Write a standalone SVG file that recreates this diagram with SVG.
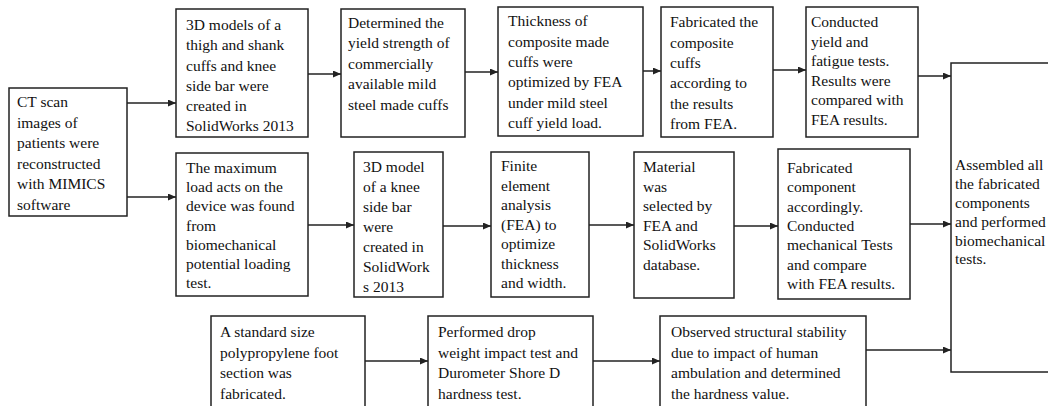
<svg xmlns="http://www.w3.org/2000/svg" width="1048" height="406" viewBox="0 0 1048 406">
<style>
.box{fill:#fff;stroke:#222;stroke-width:1.5}
.t{font-family:"Liberation Serif","Times New Roman",serif;font-size:15.5px;fill:#111}
.c{fill:none;stroke:#222;stroke-width:1.5;marker-end:url(#ah)}
</style>
<defs>
<marker id="ah" markerUnits="userSpaceOnUse" markerWidth="9" markerHeight="8" refX="8" refY="3.5" orient="auto">
<path d="M0,0 L8,3.5 L0,7 z" fill="#222"/>
</marker>
</defs>
<rect width="1048" height="406" fill="#fff"/>
<g id="connectors">
<path class="c" d="M127,103 H176"/>
<path class="c" d="M127,197 H176"/>
<path class="c" d="M308,74 H341"/>
<path class="c" d="M465,72 H498"/>
<path class="c" d="M643,71 H661"/>
<path class="c" d="M773,70 H806"/>
<path class="c" d="M918,76 H951"/>
<path class="c" d="M308,225 H354"/>
<path class="c" d="M443,226 H491"/>
<path class="c" d="M589,225 H634"/>
<path class="c" d="M734,226 H778"/>
<path class="c" d="M910,224 H951"/>
<path class="c" d="M365,361 H428"/>
<path class="c" d="M593,361 H660"/>
<path class="c" d="M866,350 H951"/>
</g>
<g id="ct">
<rect class="box" x="9" y="88" width="118" height="128"/>
<text class="t"><tspan x="17" y="107">CT scan</tspan><tspan x="17" y="127.5">images of</tspan><tspan x="17" y="148">patients were</tspan><tspan x="17" y="168.5">reconstructed</tspan><tspan x="17" y="189">with MIMICS</tspan><tspan x="17" y="209.5">software</tspan></text>
</g>
<g id="models3d">
<rect class="box" x="176" y="9" width="132" height="128"/>
<text class="t"><tspan x="186" y="30">3D models of a</tspan><tspan x="186" y="50">thigh and shank</tspan><tspan x="186" y="70.5">cuffs and knee</tspan><tspan x="186" y="91">side bar were</tspan><tspan x="186" y="111">created in</tspan><tspan x="186" y="131">SolidWorks 2013</tspan></text>
</g>
<g id="yield">
<rect class="box" x="341" y="9" width="124" height="128"/>
<text class="t"><tspan x="348" y="28">Determined the</tspan><tspan x="348" y="48">yield strength of</tspan><tspan x="348" y="69">commercially</tspan><tspan x="348" y="89">available mild</tspan><tspan x="348" y="110">steel made cuffs</tspan></text>
</g>
<g id="thickness">
<rect class="box" x="498" y="7" width="145" height="129"/>
<text class="t"><tspan x="508" y="26">Thickness of</tspan><tspan x="508" y="47">composite made</tspan><tspan x="508" y="67">cuffs were</tspan><tspan x="508" y="87">optimized by FEA</tspan><tspan x="508" y="108">under mild steel</tspan><tspan x="508" y="128">cuff yield load.</tspan></text>
</g>
<g id="fabricated">
<rect class="box" x="661" y="7" width="112" height="130"/>
<text class="t"><tspan x="670" y="27">Fabricated the</tspan><tspan x="670" y="48">composite</tspan><tspan x="670" y="68">cuffs</tspan><tspan x="670" y="88">according to</tspan><tspan x="670" y="109">the results</tspan><tspan x="670" y="129">from FEA.</tspan></text>
</g>
<g id="conducted">
<rect class="box" x="806" y="7" width="112" height="130"/>
<text class="t"><tspan x="811" y="27">Conducted</tspan><tspan x="811" y="46.5">yield and</tspan><tspan x="811" y="66">fatigue tests.</tspan><tspan x="811" y="85.5">Results were</tspan><tspan x="811" y="105">compared with</tspan><tspan x="811" y="124.5">FEA results.</tspan></text>
</g>
<g id="assembled">
<rect class="box" x="951" y="63" width="110" height="309"/>
<text class="t"><tspan x="955" y="170">Assembled all</tspan><tspan x="955" y="189">the fabricated</tspan><tspan x="955" y="208">components</tspan><tspan x="955" y="227">and performed</tspan><tspan x="955" y="246">biomechanical</tspan><tspan x="955" y="264">tests.</tspan></text>
</g>
<g id="maxload">
<rect class="box" x="176" y="153" width="132" height="143"/>
<text class="t"><tspan x="186" y="173">The maximum</tspan><tspan x="186" y="192">load acts on the</tspan><tspan x="186" y="211">device was found</tspan><tspan x="186" y="231">from</tspan><tspan x="186" y="250">biomechanical</tspan><tspan x="186" y="269">potential loading</tspan><tspan x="186" y="288">test.</tspan></text>
</g>
<g id="sidebar">
<rect class="box" x="354" y="152" width="89" height="145"/>
<text class="t"><tspan x="363" y="172">3D model</tspan><tspan x="363" y="192">of a knee</tspan><tspan x="363" y="212">side bar</tspan><tspan x="363" y="232">were</tspan><tspan x="363" y="252">created in</tspan><tspan x="363" y="272">SolidWork</tspan><tspan x="363" y="292">s 2013</tspan></text>
</g>
<g id="fea">
<rect class="box" x="491" y="152" width="98" height="145"/>
<text class="t"><tspan x="501" y="171">Finite</tspan><tspan x="501" y="190.5">element</tspan><tspan x="501" y="210">analysis</tspan><tspan x="501" y="229.5">(FEA) to</tspan><tspan x="501" y="249">optimize</tspan><tspan x="501" y="268.5">thickness</tspan><tspan x="501" y="288">and width.</tspan></text>
</g>
<g id="material">
<rect class="box" x="634" y="152" width="100" height="146"/>
<text class="t"><tspan x="643" y="172">Material</tspan><tspan x="643" y="191.5">was</tspan><tspan x="643" y="211">selected by</tspan><tspan x="643" y="230.5">FEA and</tspan><tspan x="643" y="250">SolidWorks</tspan><tspan x="643" y="269.5">database.</tspan></text>
</g>
<g id="component">
<rect class="box" x="778" y="149" width="132" height="150"/>
<text class="t"><tspan x="787" y="173">Fabricated</tspan><tspan x="787" y="192">component</tspan><tspan x="787" y="211.5">accordingly.</tspan><tspan x="787" y="231">Conducted</tspan><tspan x="787" y="250">mechanical Tests</tspan><tspan x="787" y="269.5">and compare</tspan><tspan x="787" y="289">with FEA results.</tspan></text>
</g>
<g id="foot">
<rect class="box" x="211" y="316" width="154" height="100"/>
<text class="t"><tspan x="220" y="337">A standard size</tspan><tspan x="220" y="357.5">polypropylene foot</tspan><tspan x="220" y="378">section was</tspan><tspan x="220" y="398.5">fabricated.</tspan></text>
</g>
<g id="drop">
<rect class="box" x="428" y="316" width="165" height="100"/>
<text class="t"><tspan x="438" y="337">Performed drop</tspan><tspan x="438" y="357.5">weight impact test and</tspan><tspan x="438" y="378">Durometer Shore D</tspan><tspan x="438" y="398.5">hardness test.</tspan></text>
</g>
<g id="observed">
<rect class="box" x="660" y="316" width="206" height="100"/>
<text class="t"><tspan x="671" y="337">Observed structural stability</tspan><tspan x="671" y="357.5">due to impact of human</tspan><tspan x="671" y="378">ambulation and determined</tspan><tspan x="671" y="398.5">the hardness value.</tspan></text>
</g>
</svg>
